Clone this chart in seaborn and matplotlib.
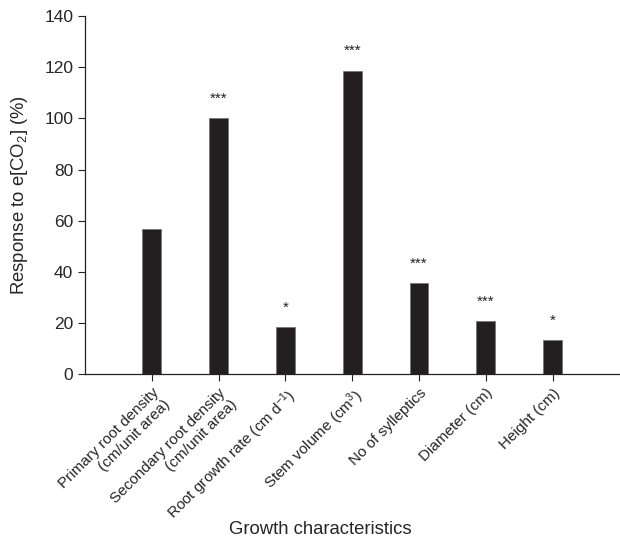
import pandas as pd
import matplotlib
matplotlib.use('Agg')
import matplotlib.pyplot as plt
import seaborn as sns

# Growth responses to elevated CO2
labels = ['Primary root density\n(cm/unit area)',
          'Secondary root density\n(cm/unit area)',
          'Root growth rate (cm d$^{-1}$)',
          'Stem volume (cm$^{3}$)',
          'No of sylleptics',
          'Diameter (cm)',
          'Height (cm)']
response = [56.7, 100.0, 18.3, 118.7, 35.5, 20.6, 13.2]
signif = ['', '***', '*', '***', '***', '***', '*']

df = pd.DataFrame({'trait': labels, 'response': response})

sns.set_style('ticks')
plt.rcParams['font.family'] = ['Liberation Sans', 'DejaVu Sans']
plt.rcParams['mathtext.default'] = 'regular'

fig = plt.figure(figsize=(6.2, 5.39), dpi=100)
ax = fig.add_axes([0.137, 0.306, 0.862, 0.664])

sns.barplot(data=df, x='trait', y='response', color='#231f20',
            width=0.28, edgecolor='#777777', linewidth=0.6, saturation=1, ax=ax)

for i, (v, s) in enumerate(zip(response, signif)):
    if s:
        ax.text(i, v + 5, s, ha='center', va='bottom', fontsize=11, color='#222222')

ax.set_xlim(-1, 7)
ax.set_ylim(0, 140)
ax.set_yticks(range(0, 141, 20))
ax.tick_params(axis='both', length=5, width=0.8, color='#222222')
ax.tick_params(axis='y', labelsize=12.5)
ax.set_xticks(range(len(labels)))
ax.set_xticklabels(labels, rotation=45, ha='right', rotation_mode='anchor', fontsize=11)
ax.set_ylabel('Response to e[CO$_2$] (%)', fontsize=13.3, labelpad=10)
ax.set_xlabel('Growth characteristics', fontsize=13.3)
ax.xaxis.set_label_coords(0.44, -0.41)
sns.despine(ax=ax)
for sp in ['left', 'bottom']:
    ax.spines[sp].set_linewidth(0.9)
    ax.spines[sp].set_color('#222222')

fig.savefig('out.png', dpi=100, facecolor='white')
